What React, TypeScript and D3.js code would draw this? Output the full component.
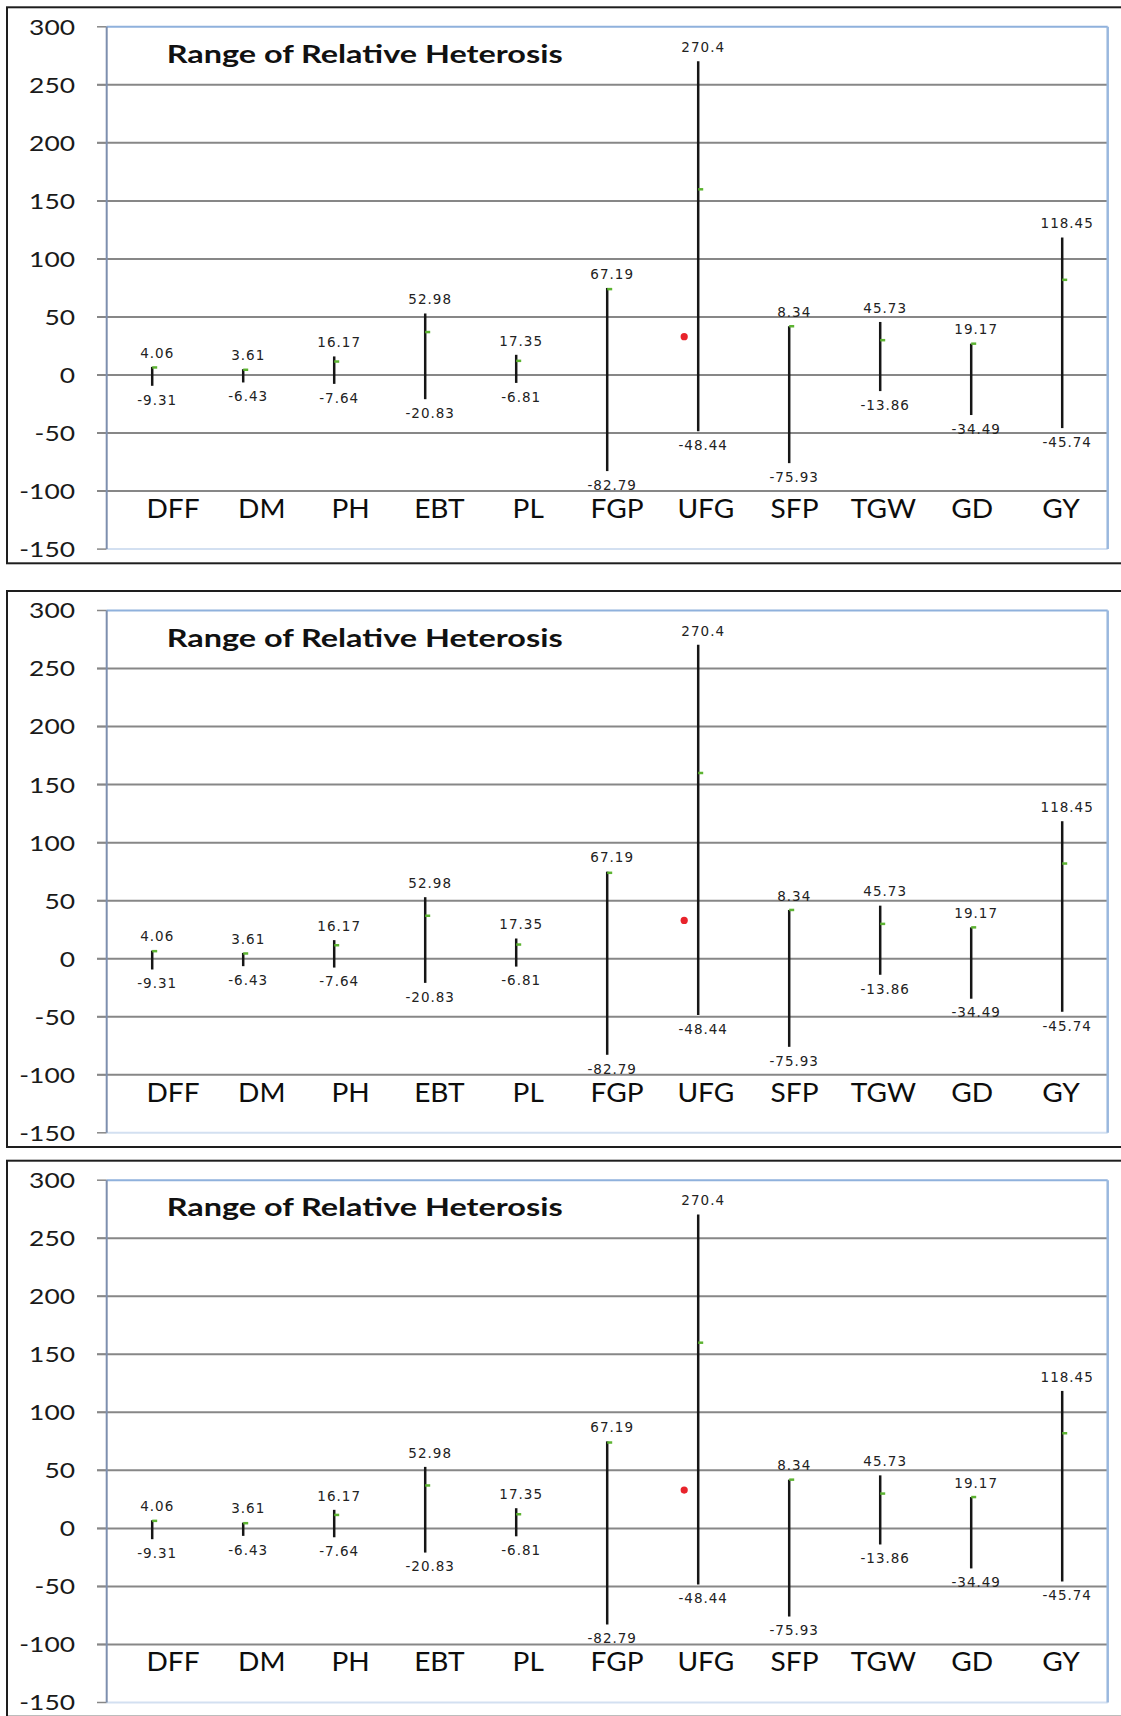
import React from 'react';
import * as d3 from 'd3';

// HLC-style range chart, drawn three times (the source figure repeats it)
const categories = ['DFF', 'DM', 'PH', 'EBT', 'PL', 'FGP', 'UFG', 'SFP', 'TGW', 'GD', 'GY'];
const highs = [7, 5, 16, 53, 17.4, 75, 270.4, 42, 45.7, 27, 118.45];
const lows = [-9.31, -6.43, -7.64, -20.83, -6.81, -82.79, -48.44, -75.93, -13.86, -34.49, -45.74];
const closes = [6.5, 4.5, 11.6, 37, 12.2, 74, 160, 42, 30, 27, 82];
const opens: (number | null)[] = [null, null, null, null, null, null, 33, null, null, null, null];
const highLabels = ['4.06', '3.61', '16.17', '52.98', '17.35', '67.19', '270.4', '8.34', '45.73', '19.17', '118.45'];
const lowLabels = ['-9.31', '-6.43', '-7.64', '-20.83', '-6.81', '-82.79', '-48.44', '-75.93', '-13.86', '-34.49', '-45.74'];
const yTicks = [300, 250, 200, 150, 100, 50, 0, -50, -100, -150];
const title = 'Range of Relative Heterosis';

const W = 1121;
const H = 1716;
const panelTops = [7.3, 591, 1160.7];
const panelH = 556;
const plotLeft = 106.7;
const plotRight = 1107.7;
const plotOffset = 19.5;
const plotH = 522.3;

const Panel = ({ top }: { top: number }) => {
  const plotTop = top + plotOffset;
  const plotBottom = plotTop + plotH;

  const x = d3.scaleBand().domain(categories).range([plotLeft, plotRight]);
  // category names sit in their own, slightly narrower row
  const xLabel = d3.scaleBand().domain(categories).range([128.6, 1105.4]);
  const y = d3.scaleLinear().domain([-150, 300]).range([plotBottom, plotTop]);
  const cx = (c: string) => (x(c) as number) + x.bandwidth() / 2;
  const lx = (c: string) => (xLabel(c) as number) + xLabel.bandwidth() / 2;

  return (
    <g>
      <rect x={7} y={top} width={W + 20} height={panelH} fill="white" stroke="#1e1e1e" strokeWidth={2} />

      {/* gridlines + tick marks */}
      {yTicks.map(t => (
        <g key={t}>
          {t !== 300 && t !== -150 && (
            <line x1={97} x2={plotRight} y1={y(t)} y2={y(t)} stroke="#878787" strokeWidth={2} />
          )}
          <line x1={97} x2={plotLeft} y1={y(t)} y2={y(t)} stroke="#878787" strokeWidth={1.5} />
          <text
            transform={`translate(75, ${y(t)}) scale(1.2, 1)`}
            dy="0.36em"
            textAnchor="end"
            fontFamily="Lato, 'Open Sans', sans-serif"
            fontSize={22}
            fill="#1a1a1a"
          >
            {t}
          </text>
        </g>
      ))}

      {/* plot frame */}
      <line x1={plotLeft} x2={plotRight} y1={plotTop} y2={plotTop} stroke="#8fb1dc" strokeWidth={2} />
      <line x1={plotLeft} x2={plotRight} y1={plotBottom} y2={plotBottom} stroke="#d3e0f1" strokeWidth={2} />
      <line x1={plotRight} x2={plotRight} y1={plotTop} y2={plotBottom} stroke="#9ab8de" strokeWidth={2.5} />
      <line x1={plotLeft} x2={plotLeft} y1={plotTop} y2={plotBottom} stroke="#7d8fae" strokeWidth={2} />

      <text
        x={166.7}
        y={plotTop + 36}
        fontFamily="Lato, 'Open Sans', sans-serif"
        fontWeight="bold"
        fontSize={25}
        textLength={396}
        lengthAdjust="spacingAndGlyphs"
        fill="#111"
      >
        {title}
      </text>

      {categories.map((c, i) => (
        <g key={c}>
          <line x1={cx(c)} x2={cx(c)} y1={y(highs[i])} y2={y(lows[i])} stroke="#161616" strokeWidth={2.5} />
          <line x1={cx(c)} x2={cx(c) + 5} y1={y(closes[i])} y2={y(closes[i])} stroke="#5db432" strokeWidth={2.5} />
          {opens[i] !== null && (
            <circle cx={cx(c) - 14} cy={y(opens[i] as number)} r={3.6} fill="#e8232b" />
          )}
          <text
            x={cx(c) + 5}
            y={y(highs[i]) - 14}
            dy="0.35em"
            textAnchor="middle"
            fontFamily="'DejaVu Sans', sans-serif"
            fontSize={13.5}
            letterSpacing={1}
            fill="#222"
          >
            {highLabels[i]}
          </text>
          <text
            x={cx(c) + 5}
            y={y(lows[i]) + 14}
            dy="0.35em"
            textAnchor="middle"
            fontFamily="'DejaVu Sans', sans-serif"
            fontSize={13.5}
            letterSpacing={1}
            fill="#222"
          >
            {lowLabels[i]}
          </text>
          <text
            transform={`translate(${lx(c)}, ${y(-100) + 27}) scale(1.08, 1)`}
            textAnchor="middle"
            fontFamily="Lato, 'Open Sans', sans-serif"
            fontSize={26}
            fill="#0d0d0d"
          >
            {c}
          </text>
        </g>
      ))}
    </g>
  );
};

export default function App() {
  return (
    <svg
      width={W}
      height={H}
      style={{ position: 'absolute', left: 0, top: 0, background: 'white' }}
    >
      <rect width={W} height={H} fill="white" />
      {panelTops.map(t => (
        <Panel key={t} top={t} />
      ))}
    </svg>
  );
}
